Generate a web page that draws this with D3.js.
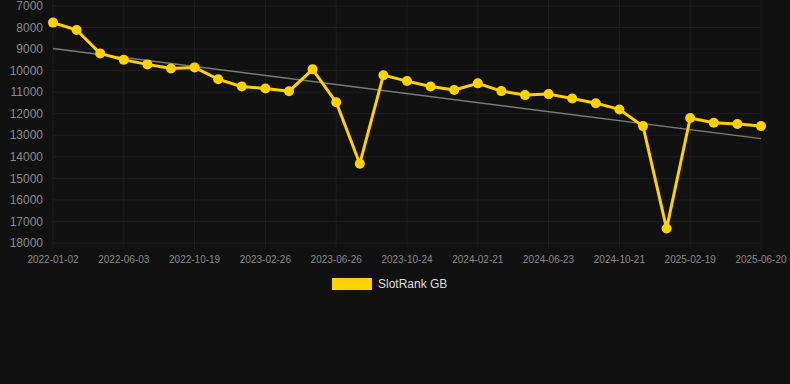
<!DOCTYPE html>
<html>
<head>
<meta charset="utf-8">
<script src="https://cdn.jsdelivr.net/npm/d3@7"></script>
<style>
  body { margin: 0; background: #111111; }
  svg { display: block; font-family: "Liberation Sans", Arial, sans-serif; }
</style>
</head>
<body>
<svg id="chart"></svg>
<script>
// dates of each rank snapshot (only every 3rd one is labelled on the axis)
const dates = [
  "2022-01-02", "2022-02-21", "2022-04-12", "2022-06-03", "2022-07-19", "2022-09-03",
  "2022-10-19", "2022-12-01", "2023-01-13", "2023-02-26", "2023-04-07", "2023-05-17",
  "2023-06-26", "2023-08-05", "2023-09-14", "2023-10-24", "2023-12-03", "2024-01-12",
  "2024-02-21", "2024-04-02", "2024-05-13", "2024-06-23", "2024-08-02", "2024-09-11",
  "2024-10-21", "2024-11-30", "2025-01-10", "2025-02-19", "2025-03-31", "2025-05-11",
  "2025-06-20"
];

// SlotRank GB values
const ranks = [
  7770, 8115, 9200, 9500, 9710, 9900,
  9850, 10400, 10740, 10830, 10960, 9940,
  11470, 14320, 10210, 10485, 10740, 10900,
  10590, 10950, 11135, 11090, 11290, 11510,
  11800, 12575, 17330, 12200, 12420, 12480,
  12575
];

const yTicks = [7000, 8000, 9000, 10000, 11000, 12000, 13000, 14000, 15000, 16000, 17000, 18000];
const seriesName = "SlotRank GB";

const width = 790, height = 384;
const margin = {top: 6, right: 29, bottom: 141, left: 53};

const svg = d3.select("#chart")
  .attr("width", width)
  .attr("height", height);

const x = d3.scalePoint()
  .domain(d3.range(dates.length))
  .range([margin.left, width - margin.right]);

const y = d3.scaleLinear()
  .domain([7000, 18000])
  .range([margin.top, height - margin.bottom]);

const gridColor = "#1f1f1f";
const labelColor = "#8a8a8a";

// horizontal grid
svg.append("g")
  .selectAll("line")
  .data(yTicks)
  .join("line")
    .attr("x1", margin.left)
    .attr("x2", width - margin.right)
    .attr("y1", d => y(d))
    .attr("y2", d => y(d))
    .attr("stroke", gridColor)
    .attr("stroke-width", 1);

// vertical grid every 3rd date
const xTickIdx = d3.range(0, dates.length, 3);
svg.append("g")
  .selectAll("line")
  .data(xTickIdx)
  .join("line")
    .attr("x1", d => x(d))
    .attr("x2", d => x(d))
    .attr("y1", 0)
    .attr("y2", y(18000) + 6)
    .attr("stroke", gridColor)
    .attr("stroke-width", 1);

// y labels
svg.append("g")
  .selectAll("text")
  .data(yTicks)
  .join("text")
    .attr("x", margin.left - 10)
    .attr("y", d => y(d))
    .attr("dy", "0.35em")
    .attr("text-anchor", "end")
    .attr("fill", labelColor)
    .attr("font-size", 12)
    .text(d => d);

// x labels
svg.append("g")
  .selectAll("text")
  .data(xTickIdx)
  .join("text")
    .attr("x", d => x(d))
    .attr("y", y(18000) + 16)
    .attr("dy", "0.35em")
    .attr("text-anchor", "middle")
    .attr("fill", labelColor)
    .attr("font-size", 10)
    .text(d => dates[d]);

// trend line (least squares over the series)
const n = ranks.length;
const mx = d3.mean(d3.range(n));
const my = d3.mean(ranks);
const slope = d3.sum(ranks, (v, i) => (i - mx) * (v - my)) / d3.sum(d3.range(n), i => (i - mx) ** 2);
const icpt = my - slope * mx;

svg.append("line")
  .attr("x1", x(0))
  .attr("x2", x(n - 1))
  .attr("y1", y(icpt))
  .attr("y2", y(icpt + slope * (n - 1)))
  .attr("stroke", "#7a7a7a")
  .attr("stroke-width", 1.5);

// series
const yellow = "#ffd100";
const line = d3.line()
  .x((d, i) => x(i))
  .y(d => y(d));

svg.append("path")
  .datum(ranks)
  .attr("d", line)
  .attr("fill", "none")
  .attr("stroke", yellow)
  .attr("stroke-width", 3)
  .attr("stroke-linejoin", "round");

svg.append("g")
  .selectAll("circle")
  .data(ranks)
  .join("circle")
    .attr("cx", (d, i) => x(i))
    .attr("cy", d => y(d))
    .attr("r", 5)
    .attr("fill", yellow);

// legend
const legend = svg.append("g").attr("transform", "translate(332,278)");
legend.append("rect")
  .attr("width", 40)
  .attr("height", 12)
  .attr("fill", yellow);
legend.append("text")
  .attr("x", 46)
  .attr("y", 6)
  .attr("dy", "0.35em")
  .attr("fill", "#dddddd")
  .attr("font-size", 12)
  .text(seriesName);
</script>
</body>
</html>
